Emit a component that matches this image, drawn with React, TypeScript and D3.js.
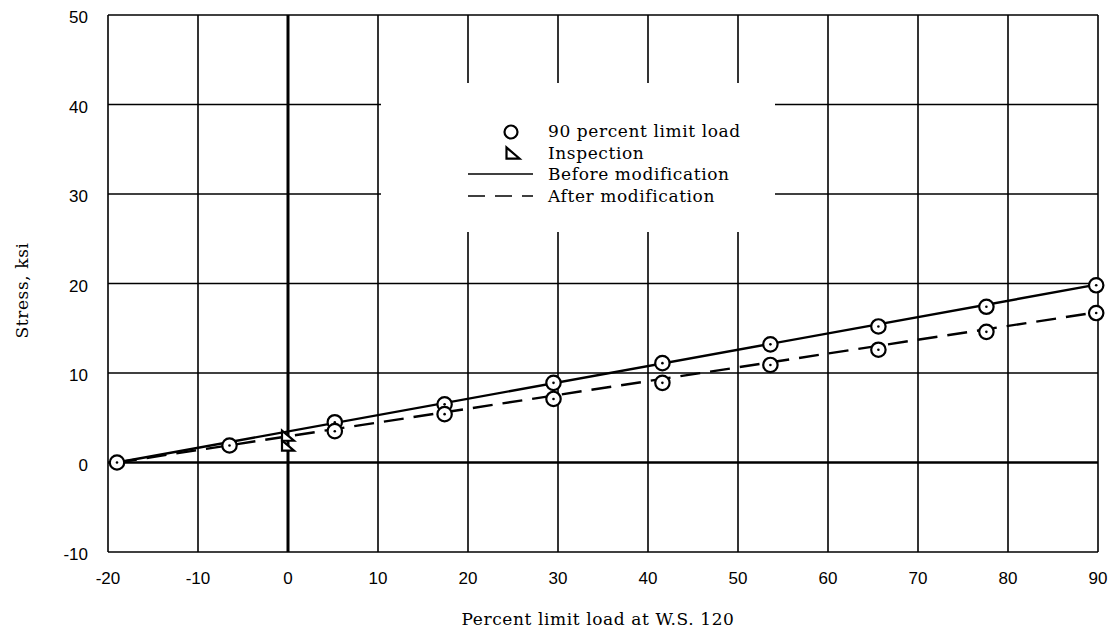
import React from "react";
import * as d3 from "d3";

const xTicks = [-20, -10, 0, 10, 20, 30, 40, 50, 60, 70, 80, 90];
const yTicks = [-10, 0, 10, 20, 30, 40, 50];

// 90 percent limit load points, before modification (solid line)
const beforeX = [-19, -6.5, 5.2, 17.4, 29.5, 41.6, 53.6, 65.6, 77.6, 89.8];
const beforeY = [0, 1.9, 4.5, 6.5, 8.9, 11.1, 13.2, 15.2, 17.4, 19.8];
// 90 percent limit load points, after modification (dashed line)
const afterX = [5.2, 17.4, 29.5, 41.6, 53.6, 65.6, 77.6, 89.8];
const afterY = [3.5, 5.4, 7.1, 8.9, 10.9, 12.6, 14.6, 16.7];
// inspection points
const inspX = [0, 0];
const inspY = [3.0, 1.9];
// fitted lines
const solidLineX = [-19, 90];
const solidLineY = [0, 19.9];
const dashedLineX = [-19, 90];
const dashedLineY = [0, 16.8];

const legendLabels = [
  "90 percent limit load",
  "Inspection",
  "Before modification",
  "After modification",
];

const W = 1117;
const H = 634;
const left = 108;
const right = 1098;
const top = 15;
const bottom = 552;

const x = d3.scaleLinear().domain([-20, 90]).range([left, right]);
const y = d3.scaleLinear().domain([-10, 50]).range([bottom, top]);

const serif = "'DejaVu Serif', serif";
const sans = "'Liberation Sans', Arial, sans-serif";

function Circle({ cx, cy }: { cx: number; cy: number }) {
  return (
    <g>
      <circle cx={cx} cy={cy} r={7.2} fill="#fff" stroke="#000" strokeWidth={2.2} />
      <circle cx={cx} cy={cy} r={1.3} fill="#000" />
    </g>
  );
}

function Tri({ cx, cy, s = 10 }: { cx: number; cy: number; s?: number }) {
  const h = s * 0.85;
  const d = `M${cx - s / 2},${cy - h / 2} L${cx - s / 2},${cy + h / 2} L${cx + s / 2},${cy + h / 2} Z`;
  return <path d={d} fill="#fff" stroke="#000" strokeWidth={2.2} strokeLinejoin="miter" />;
}

const textStyle = { fontFamily: serif, fontSize: 17, letterSpacing: 0.6 };

export default function App() {
  const line = d3
    .line<[number, number]>()
    .x((d) => x(d[0]))
    .y((d) => y(d[1]));
  const solid = line(solidLineX.map((v, i) => [v, solidLineY[i]] as [number, number])) || "";
  const dashed = line(dashedLineX.map((v, i) => [v, dashedLineY[i]] as [number, number])) || "";

  const legX = 381;
  const legY = 83;
  const legW = 394;
  const legH = 149;

  return (
    <svg width={W} height={H} style={{ display: "block", position: "absolute", left: 0, top: 0, background: "#fff" }}>
      <rect x={0} y={0} width={W} height={H} fill="#fff" />
      {/* grid */}
      {xTicks.map((t) => (
        <line
          key={"vx" + t}
          x1={x(t)}
          x2={x(t)}
          y1={top}
          y2={bottom}
          stroke="#000"
          strokeWidth={t === 0 ? 3 : 1.6}
        />
      ))}
      {yTicks.map((t) => (
        <line
          key={"hy" + t}
          x1={left}
          x2={right}
          y1={y(t)}
          y2={y(t)}
          stroke="#000"
          strokeWidth={t === 0 ? 2.6 : 1.6}
        />
      ))}
      {/* legend blank area */}
      <rect x={legX} y={legY} width={legW} height={legH} fill="#fff" />
      {/* tick labels */}
      {xTicks.map((t) => (
        <text
          key={"xl" + t}
          x={x(t)}
          y={584}
          textAnchor="middle"
          fontFamily={sans}
          fontSize={17}
          fill="#000"
        >
          {t}
        </text>
      ))}
      {yTicks.map((t) => (
        <text
          key={"yl" + t}
          x={88}
          y={y(t) + 8}
          textAnchor="end"
          fontFamily={sans}
          fontSize={17}
          fill="#000"
        >
          {t}
        </text>
      ))}
      {/* axis titles */}
      <text x={598} y={625} textAnchor="middle" {...textStyle} fill="#000">
        Percent limit load at W.S. 120
      </text>
      <text
        transform={`translate(28,${(top + bottom) / 2 + 7}) rotate(-90)`}
        textAnchor="middle"
        {...textStyle}
        fill="#000"
      >
        Stress, ksi
      </text>
      {/* fitted lines */}
      <path d={solid} fill="none" stroke="#000" strokeWidth={2.4} />
      <path d={dashed} fill="none" stroke="#000" strokeWidth={2.4} strokeDasharray="20 10" />
      {/* data */}
      {beforeX.map((v, i) => (
        <Circle key={"b" + i} cx={x(v)} cy={y(beforeY[i])} />
      ))}
      {afterX.map((v, i) => (
        <Circle key={"a" + i} cx={x(v)} cy={y(afterY[i])} />
      ))}
      {inspX.map((v, i) => (
        <Tri key={"t" + i} cx={x(v)} cy={y(inspY[i])} s={12} />
      ))}
      {/* legend */}
      <g>
        <circle cx={511} cy={132} r={6.5} fill="#fff" stroke="#000" strokeWidth={2.2} />
        <Tri cx={513} cy={153} s={13} />
        <line x1={468} x2={533} y1={174} y2={174} stroke="#000" strokeWidth={1.6} />
        <line x1={468} x2={533} y1={196} y2={196} stroke="#000" strokeWidth={1.6} strokeDasharray="17 10" />
        {legendLabels.map((s, i) => (
          <text key={s} x={548} y={137 + i * 21.7} {...textStyle} fill="#000">
            {s}
          </text>
        ))}
      </g>
    </svg>
  );
}
